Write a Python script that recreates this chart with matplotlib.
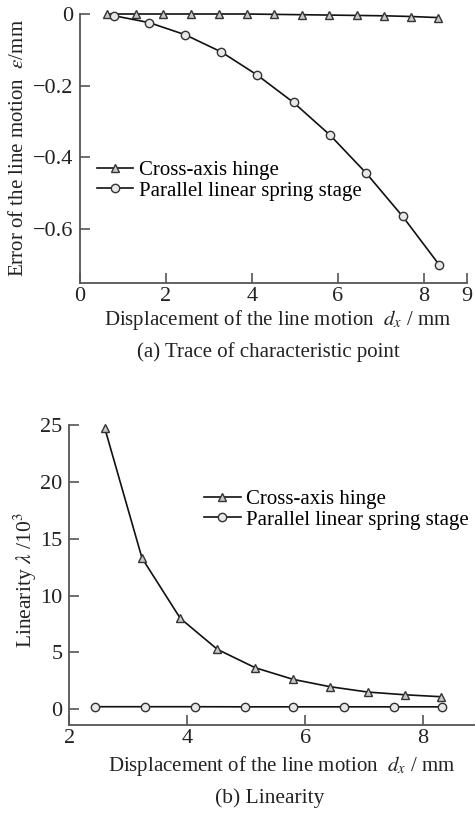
import numpy as np
import matplotlib
matplotlib.use('Agg')
from matplotlib import pyplot as plt

plt.rcParams['font.family'] = ['Liberation Serif', 'DejaVu Serif']
plt.rcParams['mathtext.fontset'] = 'stix'

# (a) trace of characteristic point
hinge_x_a = [0.64, 1.30, 1.94, 2.59, 3.24, 3.88, 4.52, 5.17, 5.80, 6.45, 7.07, 7.71, 8.33]
hinge_err = [0.0, 0.0, 0.0, 0.0, 0.0, 0.0, -0.001, -0.002, -0.003, -0.004, -0.005, -0.007, -0.010]
spring_x_a = [0.80, 1.61, 2.45, 3.29, 4.12, 4.97, 5.82, 6.66, 7.51, 8.36]
spring_err = [-0.005, -0.024, -0.058, -0.106, -0.170, -0.247, -0.338, -0.444, -0.565, -0.700]

# (b) linearity
hinge_x_b = [2.60, 3.23, 3.88, 4.51, 5.15, 5.79, 6.42, 7.06, 7.69, 8.30]
hinge_lin = [24.7, 13.3, 8.0, 5.27, 3.66, 2.64, 1.99, 1.52, 1.28, 1.11]
spring_x_b = [2.44, 3.28, 4.13, 4.97, 5.80, 6.65, 7.50, 8.32]
spring_lin = [0.23, 0.23, 0.23, 0.22, 0.22, 0.22, 0.22, 0.22]

line_kw = dict(color='#111111', linewidth=1.2, markersize=6, markeredgecolor='#333333',
               markeredgewidth=1.0, clip_on=False)

fig = plt.figure(figsize=(4.75, 8.14), dpi=100)

##########
# TOP    #
##########
ax1 = fig.add_axes([0.1684, 0.6527, 0.8141, 0.3301])
ax1.plot(hinge_x_a, hinge_err, marker='^', markerfacecolor='#c8c8c8', label='Cross-axis hinge', **line_kw)
ax1.plot(spring_x_a, spring_err, marker='o', markerfacecolor='#e8e8e8', label='Parallel linear spring stage', **line_kw)
ax1.set_xlim(0, 9)
ax1.set_ylim(-0.75, 0)
ax1.set_xticks([0, 2, 4, 6, 8, 9])
ax1.set_yticks([0, -0.2, -0.4, -0.6])
ax1.set_yticklabels(['0', '\u22120.2', '\u22120.4', '\u22120.6'])

ax1.set_xlabel('Displacement of the line motion  $d_x$ / mm', fontsize=15, va='center')
ax1.xaxis.set_label_coords(0.512, -0.139)
ax1.set_ylabel('Error of the line motion  $\\varepsilon$/mm', fontsize=15, va='center')
ax1.yaxis.set_label_coords(-0.16, 0.5)

ax1.legend(loc='upper left', bbox_to_anchor=(0.044, 0.455), frameon=False, fontsize=15,
           handlelength=1.75, handletextpad=0.25, labelspacing=0.05, borderpad=0, borderaxespad=0)

fig.text(0.565, 1 - 352 / 814, '(a) Trace of characteristic point', ha='center', va='center',
         fontsize=15, color='#222222')

##########
# BOTTOM #
##########
ax2 = fig.add_axes([0.1463, 0.1093, 0.8537, 0.3686])
ax2.plot(hinge_x_b, hinge_lin, marker='^', markerfacecolor='#c8c8c8', label='Cross-axis hinge', **line_kw)
ax2.plot(spring_x_b, spring_lin, marker='o', markerfacecolor='#e8e8e8', label='Parallel linear spring stage', **line_kw)
ax2.set_xlim(2, 8.88)
ax2.set_ylim(-1.38, 25)
ax2.set_xticks([2, 4, 6, 8])
ax2.set_yticks([0, 5, 10, 15, 20, 25])

ax2.set_xlabel('Displacement of the line motion  $d_x$ / mm', fontsize=15, va='center')
ax2.xaxis.set_label_coords(0.524, -0.138)
ax2.set_ylabel('Linearity $\\lambda$ /10$^3$', fontsize=15.5, va='center')
ax2.yaxis.set_label_coords(-0.108, 0.483)

ax2.legend(loc='upper left', bbox_to_anchor=(0.332, 0.785), frameon=False, fontsize=15,
           handlelength=1.75, handletextpad=0.25, labelspacing=0.05, borderpad=0, borderaxespad=0)

fig.text(0.568, 1 - 798 / 814, '(b) Linearity', ha='center', va='center',
         fontsize=15.5, color='#222222')

for ax in (ax1, ax2):
    for side in ('top', 'right'):
        ax.spines[side].set_visible(False)
    for side in ('left', 'bottom'):
        ax.spines[side].set_color('#555555')
        ax.spines[side].set_linewidth(1.3)
    ax.tick_params(direction='in', length=7, width=1.2, color='#555555',
                   labelsize=16, labelcolor='#222222')
    ax.tick_params(axis='y', pad=5)
    ax.tick_params(axis='x', pad=3)
    ax.xaxis.label.set_color('#222222')
    ax.yaxis.label.set_color('#222222')

fig.savefig('out.png', dpi=100)
